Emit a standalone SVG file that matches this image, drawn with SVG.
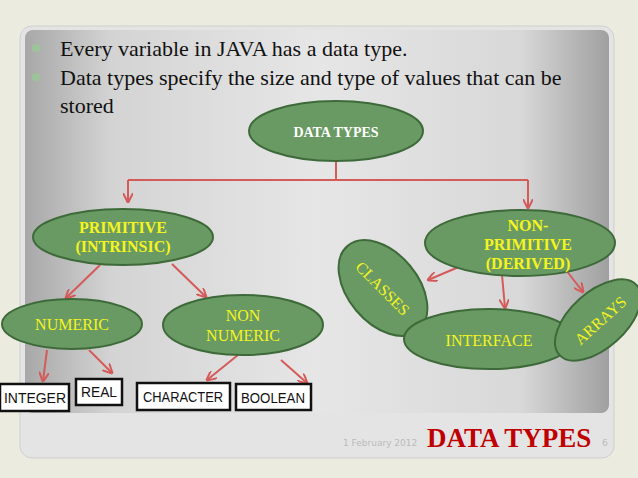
<svg xmlns="http://www.w3.org/2000/svg" width="638" height="478" viewBox="0 0 638 478">
<defs>
<linearGradient id="bg" x1="0" y1="0" x2="1" y2="0"><stop offset="0" stop-color="#a8a8a8"/><stop offset="0.15" stop-color="#d4d4d4"/><stop offset="0.5" stop-color="#e6e6e6"/><stop offset="0.85" stop-color="#d8d8d8"/><stop offset="1" stop-color="#a0a0a0"/></linearGradient>
<marker id="ar" viewBox="0 0 10 10" refX="9" refY="5" markerWidth="5" markerHeight="5" orient="auto"><path d="M0,0 L10,5 L0,10" fill="none" stroke="#d55a5a" stroke-width="2"/></marker>
<style>
.e{fill:#6a9a64;stroke:#3e6a3a;stroke-width:2}
.t{font-family:"Liberation Serif",serif;fill:#f4f420;font-size:16px;text-anchor:middle}
.b{fill:#fff;stroke:#111;stroke-width:2.5}
.bt{font-family:"Liberation Sans",sans-serif;font-size:15px;fill:#111;text-anchor:middle}
.c{fill:none;stroke:#d55a5a;stroke-width:2;marker-end:url(#ar)}
.h{font-family:"Liberation Serif",serif;font-size:22px;fill:#111}
</style>
</defs>
<rect width="638" height="478" fill="#ecebe0"/>
<rect x="20" y="26" width="594" height="432" rx="12" fill="#e4e4e4" stroke="#cfcfcf"/>
<rect x="25" y="30" width="584" height="383" rx="8" fill="url(#bg)"/>
<circle cx="36" cy="48" r="4" fill="#9cc49a"/><circle cx="36" cy="77" r="4" fill="#9cc49a"/>
<text class="h" x="60" y="56">Every variable in JAVA has a data type.</text>
<text class="h" x="60" y="85">Data types specify the size and type of values that can be</text>
<text class="h" x="60" y="113">stored</text>
<g id="connectors">
<path d="M336,161 V180 M128,180 H528" fill="none" stroke="#d55a5a" stroke-width="2"/>
<path class="c" d="M128,180 V202"/><path class="c" d="M528,180 V208"/>
<path class="c" d="M100,265 L66,298"/><path class="c" d="M172,264 L206,297"/>
<path class="c" d="M47,350 L43,381"/><path class="c" d="M89,350 L112,373"/>
<path class="c" d="M238,355 L207,380"/><path class="c" d="M281,360 L307,383"/>
<path class="c" d="M461,266 L428,280"/><path class="c" d="M502,275 L505,308"/><path class="c" d="M566,270 L583,292"/>
</g>
<g id="n-datatypes"><ellipse class="e" cx="336" cy="131" rx="87" ry="30"/><text class="t" x="336" y="137" style="font-weight:bold;fill:#fff;font-size:14px">DATA TYPES</text></g>
<g id="n-primitive"><ellipse class="e" cx="123" cy="237" rx="90" ry="28"/><text class="t" x="123" y="233" font-weight="bold">PRIMITIVE</text><text class="t" x="123" y="252" font-weight="bold">(INTRINSIC)</text></g>
<g id="n-nonprimitive"><ellipse class="e" cx="520" cy="243" rx="95" ry="33"/><text class="t" x="528" y="231" font-weight="bold">NON-</text><text class="t" x="528" y="250" font-weight="bold">PRIMITIVE</text><text class="t" x="528" y="269" font-weight="bold">(DERIVED)</text></g>
<g id="n-numeric"><ellipse class="e" cx="72" cy="324" rx="70" ry="25"/><text class="t" x="72" y="330">NUMERIC</text></g>
<g id="n-nonnumeric"><ellipse class="e" cx="243" cy="325" rx="80" ry="30"/><text class="t" x="243" y="321">NON</text><text class="t" x="243" y="341">NUMERIC</text></g>
<g id="n-classes"><ellipse class="e" cx="383" cy="288" rx="55" ry="35" transform="rotate(50 383 288)"/><text class="t" x="383" y="294" transform="rotate(45 383 288)">CLASSES</text></g>
<g id="n-interface"><ellipse class="e" cx="489" cy="339" rx="85" ry="30"/><text class="t" x="489" y="346">INTERFACE</text></g>
<g id="n-arrays"><ellipse class="e" cx="598" cy="320" rx="52" ry="28" transform="rotate(-42 598 320)"/><text class="t" x="600" y="326" transform="rotate(-42 600 320)">ARRAYS</text></g>
<g id="n-integer"><rect class="b" x="0" y="384" width="69" height="27"/><text class="bt" x="35" y="403" textLength="62" lengthAdjust="spacingAndGlyphs">INTEGER</text></g>
<g id="n-real"><rect class="b" x="76" y="379" width="46" height="26"/><text class="bt" x="99" y="397" textLength="36" lengthAdjust="spacingAndGlyphs">REAL</text></g>
<g id="n-character"><rect class="b" x="137" y="383" width="93" height="27"/><text class="bt" x="183" y="402" textLength="80" lengthAdjust="spacingAndGlyphs">CHARACTER</text></g>
<g id="n-boolean"><rect class="b" x="236" y="384" width="75" height="26"/><text class="bt" x="273" y="403" textLength="64" lengthAdjust="spacingAndGlyphs">BOOLEAN</text></g>
<text x="343" y="446" font-family="DejaVu Sans,sans-serif" font-size="9" fill="#bbb">1 February 2012</text>
<text x="427" y="447" font-family="Liberation Serif,serif" font-size="27" font-weight="bold" fill="#c00000">DATA TYPES</text>
<text x="602" y="446" font-family="DejaVu Sans,sans-serif" font-size="9" fill="#bbb">6</text>
</svg>
